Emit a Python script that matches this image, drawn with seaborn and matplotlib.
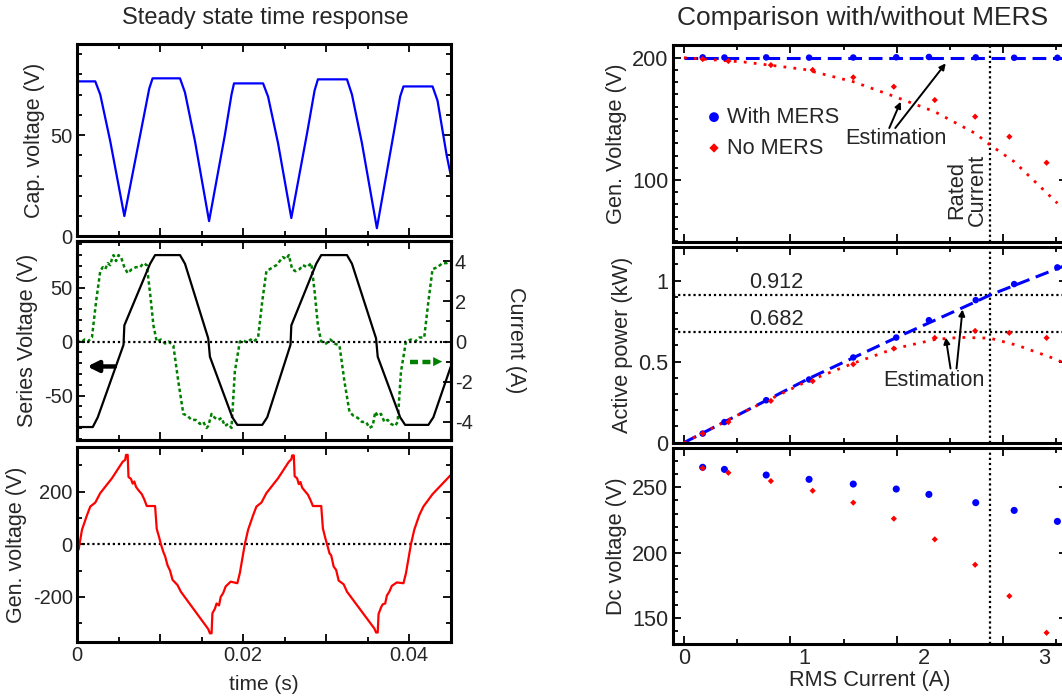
import matplotlib
matplotlib.use('Agg')
import matplotlib.pyplot as plt
import matplotlib.ticker as mticker
import seaborn as sns

# ---------------- left column: steady state waveforms (knots)
cap_t = [0.0000, 0.0022, 0.0028, 0.0040, 0.0057, 0.0077, 0.0087, 0.0091, 0.0124, 0.0130,
         0.0142, 0.0159, 0.0178, 0.0186, 0.0189, 0.0224, 0.0230, 0.0242, 0.0258, 0.0277,
         0.0286, 0.0290, 0.0325, 0.0331, 0.0343, 0.0361, 0.0380, 0.0389, 0.0393, 0.0428,
         0.0434, 0.0445, 0.0450]
cap_v = [76.5, 76.5, 70, 47, 10, 52, 73, 78, 78, 71,
         47, 7.5, 50, 70, 75.5, 75.5, 69, 46, 9, 51,
         72, 77.5, 77.5, 70, 46, 4, 48, 69, 74, 74,
         67, 40, 30]

ser_t = [0.0000, 0.0019, 0.0025, 0.0056, 0.0057, 0.0088, 0.0094, 0.0124, 0.0130, 0.0158,
         0.0160, 0.0187, 0.0193, 0.0223, 0.0229, 0.0257, 0.0258, 0.0288, 0.0294, 0.0325,
         0.0331, 0.0360, 0.0362, 0.0389, 0.0395, 0.0423, 0.0429, 0.0450]
ser_v = [-79, -79, -70, -3, 15, 72, 80, 80, 72, 3,
         -14, -70, -77, -77, -70, -3, 15, 72, 80, 80,
         72, 3, -14, -70, -77, -77, -70, -23]

cur_t = [0.0000, 0.0005, 0.0009, 0.0013, 0.0018, 0.0023, 0.0028, 0.0031, 0.0034, 0.0037,
         0.0040, 0.0042, 0.0044, 0.0047, 0.0050, 0.0053, 0.0057, 0.0061, 0.0066, 0.0071,
         0.0076, 0.0080, 0.0084, 0.0088, 0.0092, 0.0096, 0.0101, 0.0106, 0.0110, 0.0116,
         0.0122, 0.0128, 0.0133, 0.0138, 0.0143, 0.0148, 0.0152, 0.0156, 0.0158, 0.0162,
         0.0166, 0.0170, 0.0174, 0.0178, 0.0182, 0.0186, 0.0190, 0.0196,
         0.0200, 0.0205, 0.0209, 0.0213, 0.0218, 0.0223, 0.0228, 0.0232, 0.0236, 0.0240,
         0.0244, 0.0248, 0.0252, 0.0255, 0.0259, 0.0263, 0.0268, 0.0272, 0.0277, 0.0282,
         0.0286, 0.0290, 0.0294, 0.0300, 0.0305, 0.0310, 0.0316, 0.0322, 0.0328, 0.0333,
         0.0338, 0.0343, 0.0348, 0.0352, 0.0356, 0.0359, 0.0362, 0.0366, 0.0370, 0.0374,
         0.0378, 0.0383, 0.0386, 0.0390, 0.0396, 0.0402, 0.0407, 0.0412, 0.0418, 0.0423,
         0.0428, 0.0434, 0.0440, 0.0445, 0.0450]
cur_v = [0.05, -0.05, 0.1, 0.0, 0.2, 2.0, 3.5, 3.7, 3.6, 3.9,
         3.8, 4.1, 4.3, 4.0, 4.3, 4.2, 3.7, 3.4, 3.6, 3.7,
         3.7, 3.9, 3.8, 2.4, 0.8, 0.0, 0.1, -0.1, 0.0, -0.2,
         -2.0, -3.6, -3.7, -3.9, -3.9, -4.1, -4.0, -4.3, -4.2, -3.6,
         -3.8, -3.9, -3.8, -4.2, -4.1, -4.3, -1.5, 0.0,
         0.05, -0.05, 0.1, 0.0, 0.2, 2.0, 3.5, 3.6, 3.7, 3.8,
         4.0, 4.2, 4.1, 4.3, 3.6, 3.5, 3.6, 3.8, 3.7, 3.9,
         2.5, 0.8, 0.0, -0.1, 0.1, -0.1, -0.2, -2.0, -3.5, -3.7,
         -3.8, -4.0, -4.0, -4.3, -4.2, -3.5, -3.7, -3.6, -4.0, -3.9,
         -4.1, -4.2, -4.0, -1.5, 0.0, 0.1, 0.0, 0.2, 0.2, 2.0,
         3.6, 3.7, 3.9, 3.9, 4.0]

gen_t = [0.0000, 0.0002, 0.0006, 0.0012, 0.0016, 0.0022, 0.0028, 0.0042, 0.0055, 0.0058,
         0.0059, 0.0061, 0.0062, 0.0065, 0.0067, 0.0069, 0.0071, 0.0074, 0.0078, 0.0081,
         0.0084, 0.0094, 0.0096, 0.0099, 0.0101, 0.0104, 0.0106, 0.0109, 0.0112, 0.0115,
         0.0121, 0.0125, 0.0158, 0.0160, 0.0162, 0.0163, 0.0166, 0.0168, 0.0171, 0.0173,
         0.0176, 0.0179, 0.0185, 0.0193, 0.0196, 0.0202,
         0.0206, 0.0212, 0.0216, 0.0222, 0.0228, 0.0242, 0.0255, 0.0258, 0.0259, 0.0261,
         0.0262, 0.0265, 0.0267, 0.0269, 0.0271, 0.0274, 0.0278, 0.0281, 0.0284, 0.0294,
         0.0296, 0.0299, 0.0301, 0.0304, 0.0306, 0.0309, 0.0312, 0.0315, 0.0321, 0.0325,
         0.0358, 0.0360, 0.0362, 0.0363, 0.0366, 0.0368, 0.0371, 0.0373, 0.0376, 0.0379,
         0.0385, 0.0393, 0.0396, 0.0402, 0.0406, 0.0412, 0.0417, 0.0428, 0.0450]
gen_v = [0, -20, 55, 110, 143, 158, 194, 250, 313, 320,
         339, 339, 255, 248, 230, 238, 218, 205, 190, 170,
         145, 145, 58, 25, 0, -30, -45, -80, -100, -135,
         -155, -180, -322, -338, -338, -262, -245, -225, -232, -200,
         -185, -160, -142, -148, -110, 0,
         55, 110, 143, 158, 194, 250, 313, 322, 337, 337,
         258, 250, 228, 236, 215, 203, 188, 168, 145, 145,
         60, 22, 0, -35, -42, -85, -98, -138, -152, -180,
         -320, -335, -335, -265, -240, -228, -225, -195, -180, -158,
         -145, -148, -110, 0, 55, 110, 143, 190, 263]

# ---------------- right column: comparison with / without MERS
i_with = [0.156, 0.337, 0.685, 1.042, 1.41, 1.768, 2.04, 2.43, 2.75, 3.11]
vgen_with = [200.3, 200.2, 200.3, 200.1, 200.2, 200.4, 200.6, 200.3, 200.0, 200.0]
p_with = [0.056, 0.127, 0.262, 0.39, 0.526, 0.649, 0.756, 0.88, 0.979, 1.082]
vdc_with = [265.3, 263.7, 259.4, 256.1, 252.5, 248.7, 244.6, 238.3, 232.4, 224.0]

i_no = [0.156, 0.37, 0.724, 1.072, 1.41, 1.748, 2.089, 2.425, 2.71, 3.02]
vgen_no = [198.9, 197.3, 194.0, 190.0, 184.0, 176.3, 165.4, 151.8, 135.4, 114.1]
p_no = [0.056, 0.127, 0.258, 0.38, 0.484, 0.581, 0.647, 0.69, 0.678, 0.647]
vdc_no = [264.6, 261.1, 254.8, 247.4, 238.3, 226.1, 210.3, 190.9, 167.0, 139.0]

est_vgen_with_i = [0.0, 3.3]
est_vgen_with = [200.0, 200.0]
est_vgen_no_i = [0.0, 0.5, 1.0, 1.41, 1.75, 2.09, 2.425, 2.55, 2.75, 3.11]
est_vgen_no = [200.0, 196.5, 190.5, 180.4, 168.4, 155.8, 138.2, 128.6, 115.0, 81.0]
est_p_with_i = [0.0, 0.5, 1.04, 1.77, 2.43, 2.55, 3.3]
est_p_with = [0.0, 0.19, 0.396, 0.649, 0.87, 0.912, 1.13]
est_p_no_i = [0.0, 0.5, 1.0, 1.41, 1.75, 2.09, 2.3, 2.55, 2.78, 3.08, 3.2]
est_p_no = [0.0, 0.19, 0.37, 0.49, 0.58, 0.637, 0.65, 0.645, 0.60, 0.52, 0.48]

rated_current = 2.55
power_marks = [0.912, 0.682]
i_tick_labels = [0, 1, 2, 3]
i_tick_major = [0.0, 0.886, 1.772, 2.658]
i_tick_minor = [0.443, 1.329, 2.215, 3.101]

# ---------------- style
sns.set_style('ticks')
plt.rcParams['font.family'] = ['Liberation Sans', 'DejaVu Sans']
plt.rcParams['axes.unicode_minus'] = False

SPINE = 2.2
fig = plt.figure(figsize=(10.62, 6.97), dpi=100)


def frame(ax, size, right=True):
    for s in ax.spines.values():
        s.set_visible(True)
        s.set_linewidth(SPINE)
        s.set_color('black')
    ax.tick_params(which='both', direction='in', top=True, right=right,
                   width=1.3, color='black', labelsize=size, pad=3)
    ax.tick_params(which='major', length=6)
    ax.tick_params(which='minor', length=3.5)


def time_axis(ax, last):
    ax.set_xlim(0, 0.045)
    ax.xaxis.set_major_locator(mticker.FixedLocator([0, 0.01, 0.02, 0.03, 0.04]))
    ax.xaxis.set_minor_locator(mticker.MultipleLocator(0.005))
    if last:
        ax.set_xticklabels(['0', '', '0.02', '', '0.04'])
        ax.set_xlabel('time (s)', fontsize=15, labelpad=7)
    else:
        ax.set_xticklabels([])
    ax.set_ylabel(ax.get_ylabel(), fontsize=15.5)


LS = 14.5
# top-left: capacitor voltage
ax1 = fig.add_axes([0.0725, 0.661, 0.352, 0.276])
sns.lineplot(x=cap_t, y=cap_v, ax=ax1, color='#0000ff', lw=1.6, estimator=None, sort=False)
ax1.set_ylim(0, 95)
ax1.yaxis.set_major_locator(mticker.FixedLocator([0, 50]))
ax1.yaxis.set_minor_locator(mticker.MultipleLocator(10))
ax1.set_ylabel('Cap. voltage (V)')
frame(ax1, LS)
time_axis(ax1, False)

# middle-left: series voltage and current
ax2 = fig.add_axes([0.0725, 0.3687, 0.352, 0.2855])
ax2b = ax2.twinx()
ax2.axhline(0, color='black', lw=1.6, ls=(0, (1, 1.3)))
sns.lineplot(x=cur_t, y=cur_v, ax=ax2b, color='#008000', lw=1.8,
             linestyle=(0, (1.4, 1.1)), estimator=None, sort=False)
sns.lineplot(x=ser_t, y=ser_v, ax=ax2, color='black', lw=1.6, estimator=None, sort=False)
ax2.set_zorder(ax2b.get_zorder() + 1)
ax2.patch.set_visible(False)
ax2.set_ylim(-91, 93)
ax2b.set_ylim(-4.9, 5.0)
ax2.yaxis.set_major_locator(mticker.FixedLocator([-50, 0, 50]))
ax2.yaxis.set_minor_locator(mticker.MultipleLocator(10))
ax2b.yaxis.set_major_locator(mticker.MultipleLocator(2))
ax2b.yaxis.set_minor_locator(mticker.MultipleLocator(1))
ax2.set_ylabel('Series Voltage (V)')
frame(ax2, LS, right=False)
frame(ax2b, LS)
ax2b.tick_params(which='both', left=False, top=False, bottom=False)
ax2b.set_ylabel('Current (A)', fontsize=15.5, rotation=270, labelpad=38)
time_axis(ax2, False)
ax2.annotate('', xy=(0.0009, -23), xytext=(0.0049, -23),
             arrowprops=dict(arrowstyle='-|>', color='black', lw=3.2, mutation_scale=16))
ax2b.plot([0.0401, 0.0427], [-1.0, -1.0], color='#008000', lw=3.2, ls=(0, (1.8, 1.0)))
ax2b.annotate('', xy=(0.0443, -1.0), xytext=(0.0428, -1.0),
              arrowprops=dict(arrowstyle='-|>', color='#008000', lw=0.1, mutation_scale=16))

# bottom-left: generator voltage
ax3 = fig.add_axes([0.0725, 0.0789, 0.352, 0.2798])
ax3.axhline(0, color='black', lw=1.6, ls=(0, (1, 1.3)))
sns.lineplot(x=gen_t, y=gen_v, ax=ax3, color='#ff0000', lw=1.6, estimator=None, sort=False)
ax3.set_ylim(-371, 369)
ax3.yaxis.set_major_locator(mticker.FixedLocator([-200, 0, 200]))
ax3.yaxis.set_minor_locator(mticker.MultipleLocator(100))
ax3.set_ylabel('Gen. voltage (V)')
frame(ax3, LS)
time_axis(ax3, True)

fig.text(0.2495, 0.974, 'Steady state time response', ha='center', va='center', fontsize=17)

# ---------------- right column
RS = 15.7
BLUE, RED = '#0000ff', '#ff0000'
right_boxes = [[0.6334, 0.6532, 0.3713, 0.2822],
               [0.6334, 0.3649, 0.3713, 0.2812],
               [0.6334, 0.0760, 0.3713, 0.2812]]
axr = [fig.add_axes(b) for b in right_boxes]
dash_blue = (0, (4.5, 2.2))
dot_red = (0, (1, 2.6))


def current_axis(ax, last):
    ax.set_xlim(-0.094, 3.19)
    frame(ax, RS)
    ax.xaxis.set_major_locator(mticker.FixedLocator(i_tick_major))
    ax.xaxis.set_minor_locator(mticker.FixedLocator(i_tick_minor))
    ax.set_xticklabels([])
    ax.axvline(rated_current, color='black', lw=1.6, ls=(0, (1, 1.3)), zorder=1)
    if last:
        sec = ax.secondary_xaxis('bottom')
        sec.set_xticks(i_tick_labels)
        sec.set_xticklabels([str(v) for v in i_tick_labels])
        sec.tick_params(length=0, labelsize=RS, pad=2.5)
        sec.spines['bottom'].set_visible(False)
        sec.set_xlabel('RMS Current (A)', fontsize=RS, labelpad=1)


# generator voltage
ax = axr[0]
sns.lineplot(x=est_vgen_with_i, y=est_vgen_with, ax=ax, color=BLUE, lw=2.2,
             linestyle=dash_blue, estimator=None, sort=False)
sns.lineplot(x=est_vgen_no_i, y=est_vgen_no, ax=ax, color=RED, lw=2.0,
             linestyle=dot_red, estimator=None, sort=False)
sns.scatterplot(x=i_with, y=vgen_with, ax=ax, color=BLUE, marker='o', s=22,
                edgecolor='none', label='With MERS', zorder=4)
sns.scatterplot(x=i_no, y=vgen_no, ax=ax, color=RED, marker='D', s=10,
                edgecolor='none', label='No MERS', zorder=4)
ax.set_ylim(49.5, 210.4)
ax.yaxis.set_major_locator(mticker.FixedLocator([100, 200]))
ax.yaxis.set_minor_locator(mticker.MultipleLocator(10))
ax.set_ylabel('Gen. Voltage (V)', fontsize=RS)
current_axis(ax, False)
leg = ax.legend(loc='upper left', bbox_to_anchor=(0.055, 0.73), frameon=False,
                fontsize=RS, handletextpad=0.1, handlelength=1.0, labelspacing=0.45,
                markerscale=1.5, borderaxespad=0)
ax.text(2.36, 91.8, 'Rated\nCurrent', rotation=90, ha='center', va='center',
        fontsize=RS, linespacing=1.0)
ax.text(1.763, 134.1, 'Estimation', ha='center', va='center', fontsize=RS)
arrow = dict(arrowstyle='-|>', color='black', lw=1.4, mutation_scale=9, shrinkA=0, shrinkB=0)
ax.annotate('', xy=(1.805, 164), xytext=(1.71, 142.5), arrowprops=arrow)
ax.annotate('', xy=(2.18, 195.4), xytext=(1.76, 142.5), arrowprops=arrow)

# active power
ax = axr[1]
for pm in power_marks:
    ax.axhline(pm, color='black', lw=1.6, ls=(0, (1, 1.3)), zorder=1)
    ax.text(0.77, pm + 0.012, f'{pm:.3f}', ha='center', va='bottom', fontsize=RS)
sns.lineplot(x=est_p_with_i, y=est_p_with, ax=ax, color=BLUE, lw=2.2,
             linestyle=dash_blue, estimator=None, sort=False)
sns.lineplot(x=est_p_no_i, y=est_p_no, ax=ax, color=RED, lw=2.0,
             linestyle=dot_red, estimator=None, sort=False)
sns.scatterplot(x=i_with, y=p_with, ax=ax, color=BLUE, marker='o', s=22,
                edgecolor='none', zorder=4)
sns.scatterplot(x=i_no, y=p_no, ax=ax, color=RED, marker='D', s=10,
                edgecolor='none', zorder=4)
ax.set_ylim(0, 1.21)
ax.yaxis.set_major_locator(mticker.FixedLocator([0, 0.5, 1]))
ax.yaxis.set_major_formatter(mticker.FuncFormatter(lambda v, p: f'{v:g}'))
ax.yaxis.set_minor_locator(mticker.MultipleLocator(0.1))
ax.set_ylabel('Active power (kW)', fontsize=RS)
current_axis(ax, False)
ax.text(2.083, 0.385, 'Estimation', ha='center', va='center', fontsize=RS)
ax.annotate('', xy=(2.18, 0.649), xytext=(2.22, 0.458), arrowprops=arrow)
ax.annotate('', xy=(2.32, 0.822), xytext=(2.27, 0.458), arrowprops=arrow)

# dc voltage
ax = axr[2]
sns.scatterplot(x=i_with, y=vdc_with, ax=ax, color=BLUE, marker='o', s=26,
                edgecolor='none', zorder=4)
sns.scatterplot(x=i_no, y=vdc_no, ax=ax, color=RED, marker='D', s=10,
                edgecolor='none', zorder=4)
ax.set_ylim(130.4, 280)
ax.yaxis.set_major_locator(mticker.FixedLocator([150, 200, 250]))
ax.yaxis.set_minor_locator(mticker.MultipleLocator(10))
ax.set_ylabel('Dc voltage (V)', fontsize=RS)
current_axis(ax, True)

fig.text(0.8126, 0.974, 'Comparison with/without MERS', ha='center', va='center', fontsize=19)

fig.savefig('out.png', dpi=100)
